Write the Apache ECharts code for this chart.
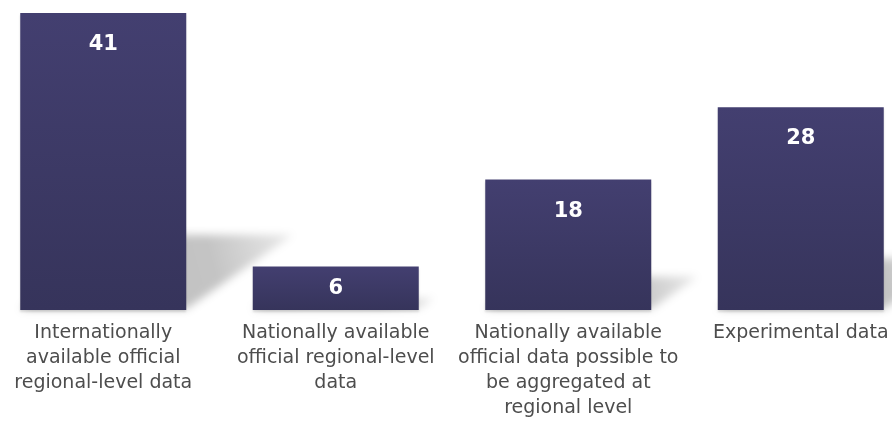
<!DOCTYPE html>
<html>
<head>
<meta charset="utf-8">
<script src="https://cdn.jsdelivr.net/npm/echarts@6/dist/echarts.min.js"></script>
<style>
  html, body { margin: 0; padding: 0; background: #fff; }
  #chart { width: 892px; height: 432px; }
</style>
</head>
<body>
<div id="chart"></div>
<script>
// categories (wrapped as in the picture)
const categories = [
  'Internationally\navailable official\nregional-level data',
  'Nationally available\nofficial regional-level\ndata',
  'Nationally available\nofficial data possible to\nbe aggregated at\nregional level',
  'Experimental data'
]
const values = [41, 6, 18, 28]

const chart = echarts.init(document.getElementById('chart'))

const barColor = new echarts.graphic.LinearGradient(0, 0, 0, 1, [
  { offset: 0, color: '#433f70' },
  { offset: 1, color: '#36345b' }
])

// the shadow polygon is drawn off screen, only its blurred shadow shows
const OFF = 3000

const option = {
  animation: false,
  grid: {
    left: -13,
    right: -25,
    top: 13,
    bottom: 122,
    containLabel: false,
    outerBoundsMode: 'none'
  },
  xAxis: {
    type: 'category',
    data: categories,
    axisLine: { show: false },
    axisTick: { show: false },
    axisLabel: {
      interval: 0,
      margin: 11,
      color: '#4d4d4d',
      fontFamily: 'DejaVu Sans',
      fontSize: 19,
      lineHeight: 25
    }
  },
  yAxis: {
    type: 'value',
    min: 0,
    max: 41,
    show: false,
    splitLine: { show: false }
  },
  series: [
    {
      // diagonal cast shadow behind each bar
      type: 'custom',
      z: 1,
      silent: true,
      data: values.map((v, i) => [i, v]),
      renderItem: function (params, api) {
        const base = api.coord([api.value(0), 0])
        const top = api.coord([api.value(0), api.value(1)])
        const h = base[1] - top[1]
        const w = api.size([1, 0])[0] * 0.714
        const xL = base[0] - w / 2 + OFF
        const xR = base[0] + w / 2 + OFF
        const yB = base[1] - 1
        const dx = h * 0.36
        const dy = h * 0.25
        return {
          type: 'polygon',
          shape: {
            points: [[xL, yB], [xR, yB], [xR + dx, yB - dy], [xL + dx, yB - dy]]
          },
          style: {
            fill: new echarts.graphic.LinearGradient(0, 1, 1, 0, [
              { offset: 0, color: 'rgba(0,0,0,1)' },
              { offset: 0.7, color: 'rgba(0,0,0,0.85)' },
              { offset: 1, color: 'rgba(0,0,0,0.3)' }
            ]),
            shadowBlur: 9,
            shadowColor: 'rgba(0,0,0,0.27)',
            shadowOffsetX: -OFF
          }
        }
      }
    },
    {
      type: 'bar',
      z: 2,
      barWidth: '71.4%',
      data: values.map(v => ({
        value: v,
        label: { position: v < 10 ? 'inside' : 'insideTop' }
      })),
      itemStyle: {
        color: barColor,
        shadowColor: 'rgba(0,0,0,0.12)',
        shadowBlur: 2,
        shadowOffsetY: 2
      },
      label: {
        show: true,
        distance: 21,
        color: '#ffffff',
        fontFamily: 'DejaVu Sans',
        fontWeight: 'bold',
        fontSize: 21
      }
    }
  ]
}

chart.setOption(option)
</script>
</body>
</html>
